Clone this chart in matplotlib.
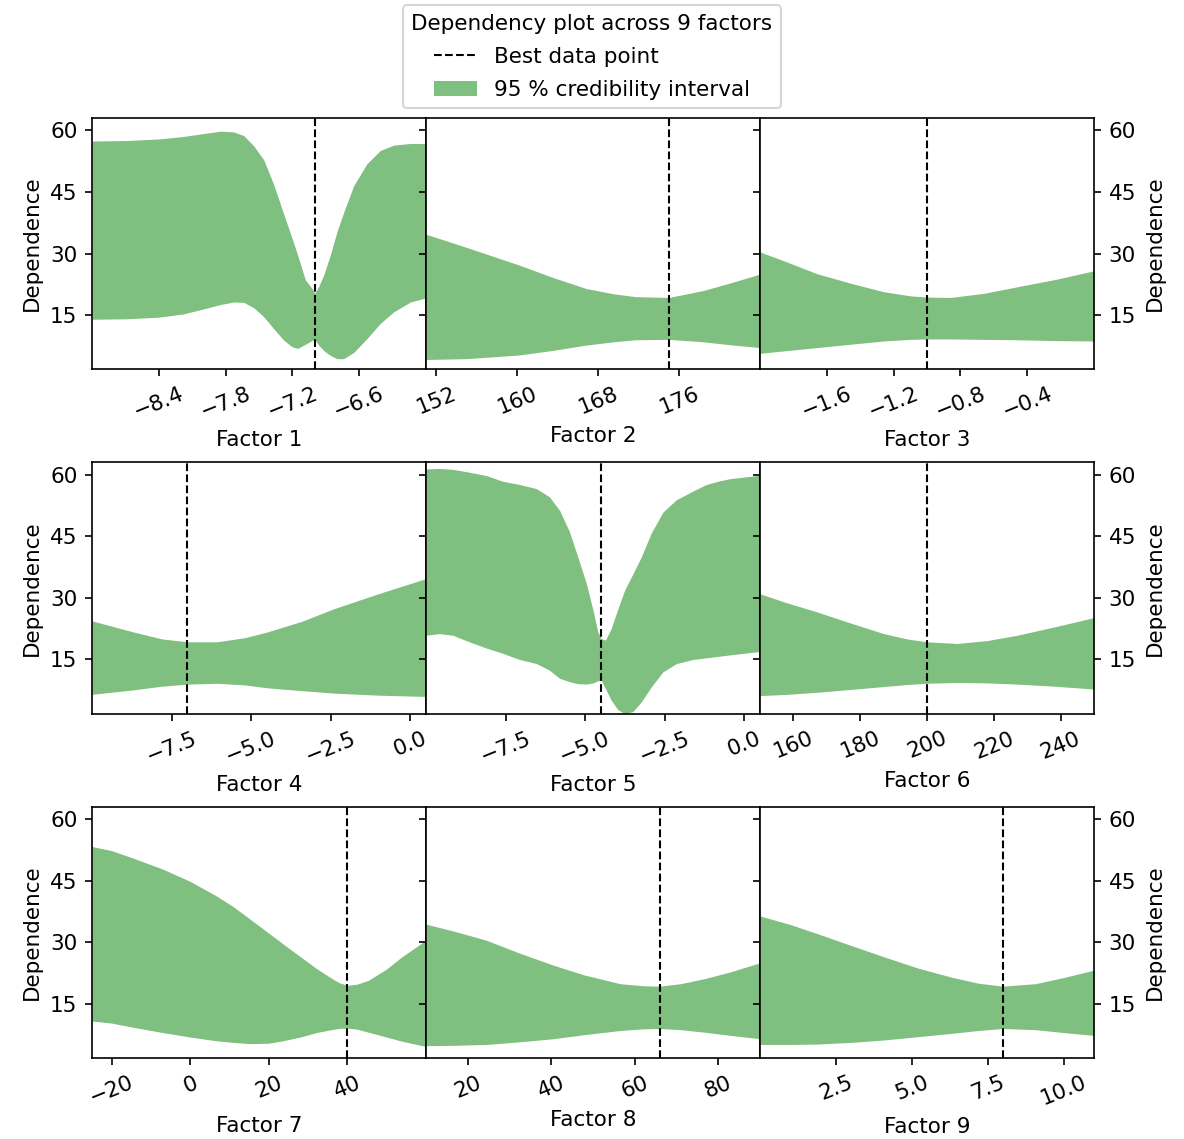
import matplotlib
matplotlib.use("Agg")
import matplotlib.pyplot as plt
from matplotlib.lines import Line2D
from matplotlib.patches import Patch

plt.rcParams["font.size"] = 10.3

# x positions, upper and lower band edges per factor
f1_x = [-9.0, -8.7, -8.4, -8.18, -8.0, -7.845, -7.726, -7.636, -7.547, -7.457, -7.368, -7.278,
        -7.203, -7.153, -7.084, -7.024, -7.0, -6.965, -6.92, -6.86, -6.8, -6.74, -6.65, -6.53,
        -6.41, -6.29, -6.14, -6.0]
f1_hi = [57.4, 57.5, 57.9, 58.5, 59.2, 59.8, 59.6, 58.7, 56.2, 52.8, 46.8, 39.6,
         33.7, 29.6, 23.6, 21.5, 20.3, 21.9, 24.7, 29.6, 35.3, 40.0, 46.5, 51.9,
         55.1, 56.4, 56.8, 56.8]
f1_lo = [14.0, 14.1, 14.5, 15.3, 16.5, 17.6, 18.2, 18.1, 16.8, 14.6, 11.7, 8.9,
         7.3, 6.9, 7.9, 8.8, 9.2, 7.7, 6.4, 5.2, 4.4, 4.4, 5.9, 9.3,
         13.0, 15.8, 18.2, 19.2]

f2_x = [151, 155, 160.2, 163.5, 166.8, 169.5, 171.7, 175, 178.4, 181, 184]
f2_hi = [34.7, 31.5, 27.2, 24.2, 21.5, 20.2, 19.5, 19.3, 21.0, 22.8, 25.0]
f2_lo = [4.2, 4.4, 5.3, 6.4, 7.7, 8.5, 9.0, 9.1, 8.5, 7.8, 7.1]

f3_x = [-2.0, -1.83, -1.66, -1.46, -1.26, -1.1, -1.0, -0.86, -0.66, -0.46, -0.23, 0.0]
f3_hi = [30.4, 27.8, 25.1, 22.8, 20.7, 19.7, 19.4, 19.3, 20.3, 21.9, 23.7, 25.8]
f3_lo = [5.7, 6.4, 7.1, 7.9, 8.7, 9.1, 9.2, 9.2, 9.1, 9.0, 8.8, 8.7]

f4_x = [-10, -8.7, -7.8, -7.0, -6.07, -5.2, -4.49, -3.4, -2.38, -1.0, 0.5]
f4_hi = [24.4, 21.7, 20.0, 19.3, 19.3, 20.3, 21.7, 24.3, 27.4, 31.0, 34.7]
f4_lo = [6.5, 7.6, 8.5, 9.0, 9.2, 8.8, 8.1, 7.4, 6.8, 6.3, 6.0]

f5_x = [-10, -9.58, -9.16, -8.64, -8.11, -7.59, -7.06, -6.53, -6.12, -5.8, -5.49, -5.23, -4.96,
        -4.75, -4.6, -4.49, -4.36, -4.18, -3.97, -3.76, -3.5, -3.23, -2.92, -2.55, -2.13,
        -1.61, -1.19, -0.77, -0.46, 0.43, 0.5]
f5_hi = [61.4, 61.5, 61.3, 60.6, 59.8, 58.4, 57.6, 56.6, 54.6, 51.3, 46.1, 40.0, 33.5,
         27.0, 21.7, 20.1, 19.7, 22.5, 27.3, 31.8, 35.8, 40.0, 45.8, 50.9, 53.9,
         56.0, 57.6, 58.5, 59.0, 59.8, 59.8]
f5_lo = [20.9, 21.3, 20.9, 19.3, 17.8, 16.5, 15.0, 14.0, 12.4, 10.4, 9.6, 9.1, 9.0,
         9.3, 9.8, 9.9, 7.9, 5.1, 2.8, 1.8, 2.3, 4.7, 8.3, 12.0, 14.0,
         15.0, 15.4, 15.8, 16.1, 16.9, 16.9]

f6_x = [150, 158, 167, 177, 187, 194, 200, 209, 218, 227, 238, 250]
f6_hi = [31.0, 28.8, 26.6, 23.9, 21.3, 20.0, 19.3, 18.9, 19.6, 20.9, 22.9, 25.2]
f6_lo = [6.2, 6.5, 7.0, 7.7, 8.4, 8.9, 9.2, 9.4, 9.3, 9.0, 8.5, 7.8]

f7_x = [-25, -20, -14.6, -7, 0, 6.6, 10.9, 15.1, 20, 23.6, 28, 32.1, 36.5, 38, 40, 42.5, 45.3, 50, 53.8, 60]
f7_hi = [53.3, 52.3, 50.5, 47.8, 44.8, 41.3, 38.7, 35.7, 32.2, 29.6, 26.5, 23.6, 20.9, 20.1, 19.5,
         19.8, 20.7, 23.5, 26.4, 30.5]
f7_lo = [10.8, 10.3, 9.3, 8.0, 6.9, 6.0, 5.6, 5.3, 5.4, 6.0, 6.9, 8.0, 8.8, 9.0, 9.1,
         8.8, 8.1, 6.9, 5.9, 4.6]

f8_x = [10, 17, 24.4, 32, 40.5, 48, 56.5, 62, 66, 71, 76.6, 83, 90]
f8_hi = [34.4, 32.6, 30.5, 27.5, 24.4, 22.0, 19.9, 19.4, 19.3, 19.9, 21.1, 22.8, 25.0]
f8_lo = [4.8, 4.9, 5.1, 5.7, 6.5, 7.5, 8.5, 8.9, 9.0, 8.7, 8.1, 7.3, 6.5]

f9_x = [0, 1.0, 1.88, 3.0, 4.1, 5.2, 6.3, 7.2, 8.0, 9.07, 10.0, 11.0]
f9_hi = [36.4, 34.3, 32.1, 29.2, 26.4, 23.7, 21.5, 20.0, 19.3, 19.9, 21.4, 23.2]
f9_lo = [5.1, 5.1, 5.2, 5.6, 6.2, 7.0, 7.8, 8.5, 9.0, 8.7, 8.0, 7.3]

best_points = [-7.0, 175, -1.0, -7.0, -4.5, 200, 40, 66, 8.0]
x_limits = [(-9, -6), (151, 184), (-2, 0), (-10, 0.5), (-10, 0.5), (150, 250), (-25, 60), (10, 90), (0, 11)]
x_ticks = [
    [-8.4, -7.8, -7.2, -6.6],
    [152, 160, 168, 176],
    [-1.6, -1.2, -0.8, -0.4],
    [-7.5, -5.0, -2.5, 0.0],
    [-7.5, -5.0, -2.5, 0.0],
    [160, 180, 200, 220, 240],
    [-20, 0, 20, 40],
    [20, 40, 60, 80],
    [2.5, 5.0, 7.5, 10.0],
]
y_ticks = [15, 30, 45, 60]

bands = [
    (f1_x, f1_lo, f1_hi), (f2_x, f2_lo, f2_hi), (f3_x, f3_lo, f3_hi),
    (f4_x, f4_lo, f4_hi), (f5_x, f5_lo, f5_hi), (f6_x, f6_lo, f6_hi),
    (f7_x, f7_lo, f7_hi), (f8_x, f8_lo, f8_hi), (f9_x, f9_lo, f9_hi),
]

fig, axes = plt.subplots(3, 3, figsize=(1184 / 150, 1139 / 150), dpi=150)
fig.subplots_adjust(left=0.0777, right=0.924, top=0.8964, bottom=0.0711, wspace=0, hspace=0.37)

for i, ax in enumerate(axes.flat):
    x, lo, hi = bands[i]
    ax.fill_between(x, lo, hi, color="green", alpha=0.5, linewidth=0)
    ax.axvline(best_points[i], color="black", linestyle="--", linewidth=1)
    ax.set_xlim(*x_limits[i])
    ax.set_ylim(1.8, 63.0)
    ax.set_xticks(x_ticks[i])
    ax.set_yticks(y_ticks)
    ax.tick_params(axis="x", labelrotation=22)
    ax.set_xlabel(f"Factor {i + 1}")

    col = i % 3
    ax.tick_params(axis="y", left=True, right=True)
    if col == 0:
        ax.set_ylabel("Dependence")
    elif col == 1:
        ax.tick_params(axis="y", labelleft=False)
    else:
        ax.tick_params(axis="y", labelleft=False, labelright=True)
        ax.yaxis.set_label_position("right")
        ax.set_ylabel("Dependence")

handles = [
    Line2D([], [], color="black", linestyle="--", linewidth=1),
    Patch(facecolor="green", alpha=0.5),
]
fig.legend(handles, ["Best data point", "95 % credibility interval"],
           title="Dependency plot across 9 factors", loc="upper center",
           bbox_to_anchor=(0.5, 1.0), borderaxespad=0.25, labelspacing=0.6)

fig.savefig("out.png", dpi=150)
